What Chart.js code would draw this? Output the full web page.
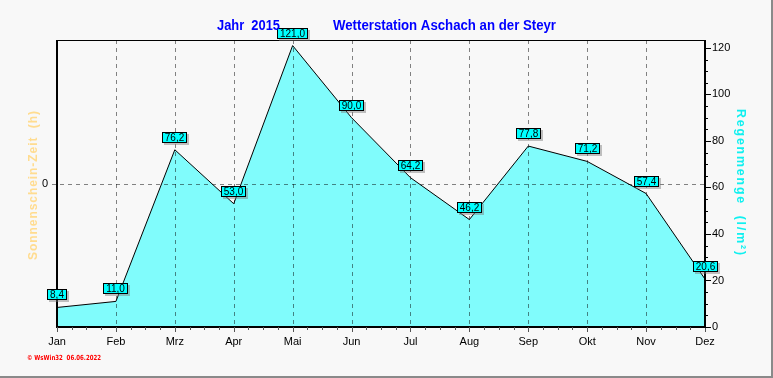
<!DOCTYPE html>
<html><head><meta charset="utf-8">
<script src="https://cdn.jsdelivr.net/npm/chart.js@4/dist/chart.umd.min.js"></script>
<style>html,body{margin:0;padding:0;background:#F8F8F8;}canvas{display:block;}</style>
</head><body>
<div style="width:773px;height:378px;position:relative"><canvas id="c" width="773" height="378"></canvas></div>
<script>
const months = ['Jan','Feb','Mrz','Apr','Mai','Jun','Jul','Aug','Sep','Okt','Nov','Dez'];
const rain = [8.4, 11.0, 76.2, 53.0, 121.0, 90.0, 64.2, 46.2, 77.8, 71.2, 57.4, 20.6];
const rainTicks = [0, 20, 40, 60, 80, 100, 120];
const sunTicks = [0];
const titleYear = 'Jahr  2015';
const titleStation = 'Wetterstation Aschach an der Steyr';
const leftTitle = 'Sonnenschein-Zeit  (h)';
const rightTitle = 'Regenmenge  (l/m²)';
const credit = '© WsWin32  06.06.2022';

const fmt = v => v.toFixed(1).replace('.', ',');

const deco = {
  id: 'deco',
  beforeDraw(chart) {
    const ctx = chart.ctx;
    ctx.save();
    ctx.fillStyle = '#F8F8F8';
    ctx.fillRect(0, 0, chart.width, chart.height);
    ctx.restore();
  },
  afterDatasetDraw(chart, args) {
    if (args.index !== 1) return;
    const ctx = chart.ctx, a = chart.chartArea, x = chart.scales.x, y2 = chart.scales.y2;
    ctx.save();
    ctx.strokeStyle = 'rgba(0,0,0,0.48)';
    ctx.lineWidth = 1;
    ctx.setLineDash([4, 4]);
    for (let i = 1; i < months.length - 1; i++) {
      const px = Math.round(x.getPixelForValue(i)) + 0.5;
      ctx.beginPath(); ctx.moveTo(px, a.top); ctx.lineTo(px, a.bottom); ctx.stroke();
    }
    sunTicks.forEach(v => {
      const py = Math.round(y2.getPixelForValue(v)) + 0.5;
      ctx.beginPath(); ctx.moveTo(a.left - 5, py); ctx.lineTo(a.right, py); ctx.stroke();
    });
    ctx.restore();
  },
  afterDatasetsDraw(chart) {
    const ctx = chart.ctx, a = chart.chartArea, x = chart.scales.x, y = chart.scales.y;
    ctx.save();
    ctx.strokeStyle = '#000';
    ctx.lineWidth = 1;
    ctx.beginPath(); ctx.moveTo(a.left, a.top + 0.5); ctx.lineTo(a.right, a.top + 0.5); ctx.stroke();
    ctx.lineWidth = 2;
    ctx.beginPath();
    ctx.moveTo(a.left, a.top); ctx.lineTo(a.left, a.bottom);
    ctx.moveTo(a.right, a.top); ctx.lineTo(a.right, a.bottom);
    ctx.moveTo(a.left - 1, a.bottom); ctx.lineTo(a.right + 1, a.bottom);
    ctx.stroke();
    ctx.lineWidth = 1;
    ctx.strokeStyle = '#555';
    for (let i = 0; i < months.length; i++) {
      const p0 = x.getPixelForValue(i);
      const px = Math.round(p0) + 0.5;
      ctx.beginPath(); ctx.moveTo(px, a.bottom); ctx.lineTo(px, a.bottom + 5); ctx.stroke();
      if (i < months.length - 1) {
        const p1 = x.getPixelForValue(i + 1);
        for (let k = 1; k < 4; k++) {
          const q = Math.round(p0 + (p1 - p0) * k / 4) + 0.5;
          ctx.beginPath(); ctx.moveTo(q, a.bottom); ctx.lineTo(q, a.bottom + 3); ctx.stroke();
        }
      }
    }
    ctx.strokeStyle = '#000';
    for (let v = 0; v <= 120; v += 5) {
      const py = Math.round(y.getPixelForValue(v)) + 0.5;
      const len = (v % 20 === 0) ? 6 : 3;
      ctx.beginPath(); ctx.moveTo(a.right, py); ctx.lineTo(a.right + len, py); ctx.stroke();
    }
    const meta = chart.getDatasetMeta(0);
    ctx.font = '10px "Liberation Sans", Arial, sans-serif';
    ctx.textAlign = 'center';
    ctx.textBaseline = 'middle';
    meta.data.forEach((pt, i) => {
      const t = fmt(rain[i]);
      const w = Math.round(ctx.measureText(t).width) + 6, h = 11;
      const bx = Math.round(pt.x - w / 2), by = Math.round(pt.y - 7 - h);
      ctx.fillStyle = 'rgba(120,120,120,0.45)';
      ctx.fillRect(bx + 2, by + 2, w, h);
      ctx.fillStyle = '#00FFFF';
      ctx.fillRect(bx, by, w, h);
      ctx.strokeStyle = '#000';
      ctx.lineWidth = 1;
      ctx.strokeRect(bx + 0.5, by + 0.5, w - 1, h - 1);
      ctx.fillStyle = '#000';
      ctx.fillText(t, bx + w / 2, by + h / 2 + 0.5);
    });
    ctx.fillStyle = '#0000FF';
    ctx.font = 'bold 14px "Liberation Sans", Arial, sans-serif';
    ctx.textAlign = 'left';
    ctx.textBaseline = 'alphabetic';
    ctx.fillText(titleYear, 217, 30, 63);
    ctx.fillText(titleStation, 333, 30, 223);
    ctx.font = 'bold 13px "Liberation Sans", Arial, sans-serif';
    ctx.textAlign = 'center';
    ctx.textBaseline = 'middle';
    ctx.save();
    ctx.letterSpacing = '1px';
    ctx.translate(33, 185);
    ctx.rotate(-Math.PI / 2);
    ctx.fillStyle = '#FFDC90';
    ctx.fillText(leftTitle, 0, 0, 150);
    ctx.restore();
    ctx.save();
    ctx.letterSpacing = '2px';
    ctx.translate(741, 183);
    ctx.rotate(Math.PI / 2);
    ctx.fillStyle = '#10F0F0';
    ctx.fillText(rightTitle, 0, 0, 148);
    ctx.restore();
    ctx.fillStyle = '#FF0000';
    ctx.font = 'bold 7px "DejaVu Sans", sans-serif';
    ctx.textAlign = 'left';
    ctx.fillText(credit, 27, 358, 74);
    ctx.fillStyle = '#8A8A8A';
    ctx.fillRect(771, 0, 2, 378);
    ctx.fillRect(0, 376, 773, 2);
    ctx.restore();
  }
};

new Chart(document.getElementById('c'), {
  type: 'line',
  data: {
    labels: months,
    datasets: [
      { data: rain, yAxisID: 'y', borderColor: '#000', borderWidth: 1, fill: false, pointRadius: 0, tension: 0 },
      { data: rain, yAxisID: 'y', borderWidth: 0, borderColor: 'rgba(0,0,0,0)', backgroundColor: '#80FCFC', fill: 'origin', pointRadius: 0, tension: 0 }
    ]
  },
  options: {
    responsive: false,
    animation: false,
    events: [],
    layout: { padding: { top: 40, left: 0, right: 0, bottom: 0 } },
    plugins: { legend: { display: false }, tooltip: { enabled: false }, title: { display: false } },
    scales: {
      x: {
        type: 'category', offset: false,
        grid: { display: false, drawTicks: false }, border: { display: false },
        ticks: { color: '#000', font: { size: 11, family: '"Liberation Sans", Arial, sans-serif' }, padding: 8, maxRotation: 0, autoSkip: false },
        afterFit(s) { s.height = 51; }
      },
      y: {
        position: 'right', min: 0, max: 123.4,
        grid: { display: false, drawTicks: false }, border: { display: false },
        afterBuildTicks(s) { s.ticks = rainTicks.map(v => ({ value: v })); },
        ticks: { color: '#000', font: { size: 11, family: '"Liberation Sans", Arial, sans-serif' }, padding: 7 },
        afterFit(s) { s.width = 68; }
      },
      y2: {
        position: 'left', min: -1, max: 1,
        grid: { display: false, drawTicks: false }, border: { display: false },
        afterBuildTicks(s) { s.ticks = sunTicks.map(v => ({ value: v })); },
        ticks: { color: '#000', font: { size: 11, family: '"Liberation Sans", Arial, sans-serif' }, padding: 9 },
        afterFit(s) { s.width = 57; }
      }
    }
  },
  plugins: [deco]
});
</script>
</body></html>
